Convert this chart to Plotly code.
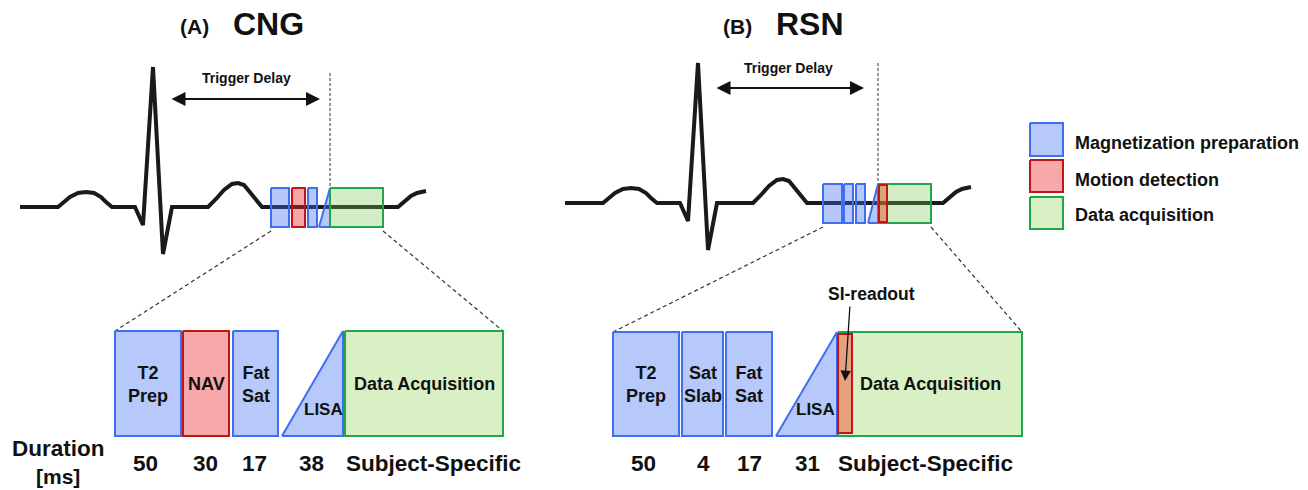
import plotly.graph_objects as go

# ---------------- data ----------------
ECG_X = [20, 58, 64, 70, 78, 86, 94, 101, 106, 112, 135, 143, 153, 163, 172, 208, 216, 224, 232, 238, 244, 250, 256, 262, 398, 405, 411, 417, 426]
ECG_Y = [207, 207, 202, 197, 193, 192, 193, 197, 202, 207, 207, 225, 67, 254, 207, 207, 199, 190, 184, 183, 185, 192, 200, 207, 207, 201, 196, 193, 191]

CNG_LABELS = ["T2<br>Prep", "NAV", "Fat<br>Sat", "LISA", "Data Acquisition"]
CNG_KINDS = ["prep", "motion", "prep", "ramp", "acq"]
CNG_DURATIONS = ["50", "30", "17", "38", "Subject-Specific"]

RSN_LABELS = ["T2<br>Prep", "Sat<br>Slab", "Fat<br>Sat", "LISA", "Data Acquisition"]
RSN_KINDS = ["prep", "prep", "prep", "ramp", "acq"]
RSN_DURATIONS = ["50", "4", "17", "31", "Subject-Specific"]

LEGEND_LABELS = ["Magnetization preparation", "Motion detection", "Data acquisition"]
LEGEND_KINDS = ["prep", "motion", "acq"]

# ---------------- styles / layout constants ----------------
FONT = "Arial, Liberation Sans, sans-serif"
TXT = "#111111"
LINE = {"prep": "#3f6ef2", "ramp": "#3f6ef2", "motion": "#c0161a", "acq": "#1fa84a", "si": "#c0161a"}
FILL = {"prep": "#b7c9fa", "ramp": "#b7c9fa", "motion": "#f7a8a8", "acq": "#d9f0c4", "si": "#e9a07f"}
FILL_T = {"prep": "rgba(63,110,242,0.38)", "ramp": "rgba(63,110,242,0.38)",
          "motion": "rgba(230,40,40,0.42)", "acq": "rgba(120,200,80,0.32)", "si": "rgba(220,90,40,0.5)"}

panels = [
    dict(ecg_dx=0, ecg_dy=0,
         title_x=(211, 266), title=("(A)", "CNG"),
         top=[(271, 289), (292, 305), (308, 317), (319, 330), (330, 383)], top_y=(188, 227),
         top_si=None,
         trig=(170, 320, 99, 246, 78), vline=(330, 73, 188),
         bot=[(115, 181), (183, 229), (233, 278), (282, 343), (345, 503)], bot_y=(331, 436),
         lisa_txt=323, labels=CNG_LABELS, kinds=CNG_KINDS, durs=CNG_DURATIONS,
         dur_x=[145, 205, 254, 311, 344]),
    dict(ecg_dx=545, ecg_dy=-4,
         title_x=(754, 800), title=("(B)", "RSN"),
         top=[(823, 842), (844, 853), (856, 865), (868, 878), (878, 931)], top_y=(184, 223),
         top_si=(879, 887, 185, 222),
         trig=(715, 864, 88, 788, 68), vline=(878, 63, 184),
         bot=[(613, 679), (682, 723), (726, 772), (776, 837), (838, 1022)], bot_y=(332, 436),
         lisa_txt=815, labels=RSN_LABELS, kinds=RSN_KINDS, durs=RSN_DURATIONS,
         dur_x=[643, 703, 749, 807, 836]),
]

fig = go.Figure()
ann = []


def poly(xs, ys, line, fill, width=2):
    fig.add_trace(go.Scatter(x=xs, y=ys, mode="lines", fill="toself", fillcolor=fill,
                             line=dict(color=line, width=width), hoverinfo="skip", showlegend=False))


def rect(x0, x1, y0, y1, kind, transparent=False, width=2):
    poly([x0, x1, x1, x0, x0], [y0, y0, y1, y1, y0], LINE[kind],
         FILL_T[kind] if transparent else FILL[kind], width)


def ramp(x0, x1, y0, y1, kind, transparent=False, width=2):
    poly([x0, x1, x1, x0], [y1, y0, y1, y1], LINE[kind],
         FILL_T[kind] if transparent else FILL[kind], width)


def text(x, y, s, size, xanchor="center", yanchor="middle"):
    ann.append(dict(x=x, y=y, xref="x", yref="y", text=s, showarrow=False,
                    font=dict(family=FONT, size=size, color=TXT),
                    xanchor=xanchor, yanchor=yanchor, align="center"))


for p in panels:
    # ECG trace
    fig.add_trace(go.Scatter(x=[v + p["ecg_dx"] for v in ECG_X], y=[v + p["ecg_dy"] for v in ECG_Y],
                             mode="lines", line=dict(color="#1a1a1a", width=4),
                             hoverinfo="skip", showlegend=False))
    # title
    text(p["title_x"][0], 26, "<b>" + p["title"][0] + "</b>", 21, "right")
    text(p["title_x"][0] + 20, 24, "<b>" + p["title"][1] + "</b>", 32, "left")
    # trigger delay
    x0, x1, ya, tx, ty = p["trig"]
    ann.append(dict(x=x1, y=ya, ax=x0, ay=ya, xref="x", yref="y", axref="x", ayref="y",
                    showarrow=True, arrowhead=2, arrowsize=1.4, arrowwidth=2, arrowcolor="#111",
                    arrowside="end+start", text=""))
    text(tx, ty, "<b>Trigger Delay</b>", 14)
    vx, vy0, vy1 = p["vline"]
    fig.add_trace(go.Scatter(x=[vx, vx], y=[vy0, vy1], mode="lines",
                             line=dict(color="#333", width=1, dash="3px,2px"),
                             hoverinfo="skip", showlegend=False))
    # zoom lines
    ty0, ty1 = p["top_y"]
    by0, by1 = p["bot_y"]
    for tx_, bx_ in [(p["top"][0][0], p["bot"][0][0]), (p["top"][-1][1], p["bot"][-1][1])]:
        fig.add_trace(go.Scatter(x=[tx_, bx_], y=[ty1 + 4, by0], mode="lines",
                                 line=dict(color="#333", width=1.2, dash="4px,3px"),
                                 hoverinfo="skip", showlegend=False))
    # top boxes
    for (a, b), k in zip(p["top"], p["kinds"]):
        if k == "ramp":
            ramp(a, b, ty0, ty1, k, True)
        else:
            rect(a, b, ty0, ty1, k, True)
    if p["top_si"]:
        a, b, c, d = p["top_si"]
        rect(a, b, c, d, "si", True)
    # bottom boxes
    for i, ((a, b), k) in enumerate(zip(p["bot"], p["kinds"])):
        if k == "ramp":
            ramp(a, b, by0, by1, k)
            text(p["lisa_txt"], 409, "<b>" + p["labels"][i] + "</b>", 17)
        else:
            rect(a, b, by0, by1, k)
            text((a + b) / 2, 384, "<b>" + p["labels"][i] + "</b>", 18)
        text(p["dur_x"][i], 463, "<b>" + p["durs"][i] + "</b>", 22.5,
             "left" if i == len(p["bot"]) - 1 else "center")

# SI-readout box and arrow (RSN)
rect(838, 852, 334, 433, "si")
text(871, 294, "<b>SI-readout</b>", 17.5)
ann.append(dict(x=845, y=381, ax=850, ay=305, xref="x", yref="y", axref="x", ayref="y",
                showarrow=True, arrowhead=2, arrowsize=1.6, arrowwidth=1.3, arrowcolor="#111", text=""))

# Duration header
text(58, 448, "<b>Duration</b>", 22.5)
text(58, 476, "<b>[ms]</b>", 21)

# Legend
leg_y = [(123, 156), (160, 192), (197, 229)]
leg_ty = [143, 180, 215]
for (y0, y1), k, lab, ty in zip(leg_y, LEGEND_KINDS, LEGEND_LABELS, leg_ty):
    rect(1030, 1063, y0, y1, k)
    text(1073, ty, "<b>" + lab + "</b>", 18, "left")

fig.update_layout(
    width=1308, height=490, margin=dict(l=0, r=0, t=0, b=0),
    paper_bgcolor="white", plot_bgcolor="white",
    xaxis=dict(range=[0, 1308], visible=False, fixedrange=True),
    yaxis=dict(range=[490, 0], visible=False, fixedrange=True),
    annotations=ann, showlegend=False,
)
fig.write_html("out.html", config={"displayModeBar": False},
               post_script="document.body.style.margin='0';document.body.style.overflow='hidden';")
